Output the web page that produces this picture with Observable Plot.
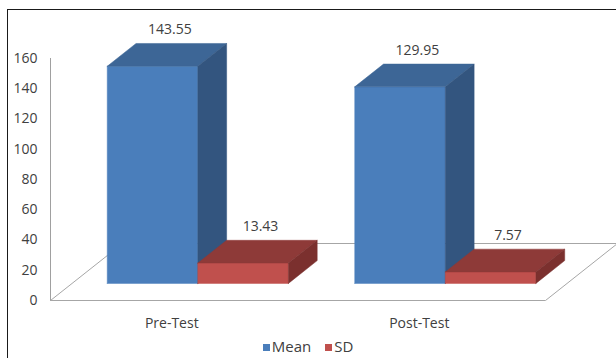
<!DOCTYPE html>
<html><head><meta charset="utf-8">
<script src="https://cdn.jsdelivr.net/npm/d3@7"></script>
<script src="https://cdn.jsdelivr.net/npm/@observablehq/plot@0.6"></script>
<style>
body{margin:0;background:#fff;font-family:"Open Sans",sans-serif;}
#wrap{position:relative;width:616px;height:358px;overflow:hidden;background:#fff;}
#frame{position:absolute;left:7px;top:9px;width:700px;height:400px;border-top:1px solid #1a1a1a;border-left:1px solid #1a1a1a;}
#chart{position:absolute;left:0;top:0;}
#legend{position:absolute;left:0;top:336px;width:616px;text-align:center;font-size:15px;color:#404040;line-height:20px;}
#legend .sw{display:inline-block;width:7px;height:7px;margin-right:2px;vertical-align:1px;}
#legend .item{margin:0 7px;}
</style></head><body>
<div id="wrap"><div id="frame"></div><div id="chart"></div><div id="legend"></div></div>
<script>
// ---- data ----
const categories = ["Pre-Test", "Post-Test"];
const series = ["Mean", "SD"];
const meanValues = [143.55, 129.95];
const sdValues = [13.43, 7.57];
const yTicks = [0, 20, 40, 60, 80, 100, 120, 140, 160];

// ---- styles / layout ----
const faceColors = {
  Mean: {front: "#4a7ebb", top: "#3d6696", side: "#33557f"},
  SD:   {front: "#c0504d", top: "#8e3a38", side: "#7b302e"}
};
const W = 616, H = 333, mL = 50, mR = 71, mT = 58, mB = 33;
const DXpx = 72, DYpx = 57;      // floor depth projection in px
const d0 = 0.3, d1 = 0.7;         // bar front/back depth
const barW = 0.366, center = 0.508;
const kx = (W - mL - mR) / categories.length;
const ky = (H - mT - mB) / (yTicks[yTicks.length - 1] - yTicks[0]);
const proj = (u, v, d) => ({x: u + d * DXpx / kx, y: v + d * DYpx / ky});

const valuesBySeries = {Mean: meanValues, SD: sdValues};
const marks = [];

// floor
const floorPts = [
  proj(0, 0, 0), proj(categories.length, 0, 0), proj(categories.length, 0, 1), proj(0, 0, 1), proj(0, 0, 0)
];
marks.push(Plot.line(floorPts, {x: "x", y: "y", stroke: "#a6a6a6", strokeWidth: 1, fill: "white"}));
// vertical axis line
marks.push(Plot.ruleX([0], {y1: yTicks[0], y2: yTicks[yTicks.length - 1], stroke: "#a0a0a0", strokeWidth: 1}));

const labels = [];
categories.forEach((cat, i) => {
  series.forEach((s, j) => {
    const v = valuesBySeries[s][i];
    const u0 = i + center - barW + j * barW, u1 = u0 + barW;
    const c = faceColors[s];
    const front = [proj(u0, 0, d0), proj(u1, 0, d0), proj(u1, v, d0), proj(u0, v, d0), proj(u0, 0, d0)];
    const top = [proj(u0, v, d0), proj(u1, v, d0), proj(u1, v, d1), proj(u0, v, d1), proj(u0, v, d0)];
    const side = [proj(u1, 0, d0), proj(u1, 0, d1), proj(u1, v, d1), proj(u1, v, d0), proj(u1, 0, d0)];
    marks.push(Plot.line(front, {x: "x", y: "y", fill: c.front, stroke: c.front, strokeWidth: 0.5}));
    marks.push(Plot.line(top, {x: "x", y: "y", fill: c.top, stroke: c.top, strokeWidth: 0.5}));
    marks.push(Plot.line(side, {x: "x", y: "y", fill: c.side, stroke: c.side, strokeWidth: 0.5}));
    const uc = (u0 + u1) / 2;
    labels.push({x: proj(uc, v, (d0 + d1) / 2).x, y: proj(uc, v, d1).y, text: d3.format(".2f")(v)});
  });
});

marks.push(Plot.text(labels, {x: "x", y: "y", text: "text", dy: -14, dx: 3, fill: "#404040", fontSize: 14}));
marks.push(Plot.axisY(yTicks, {tickSize: 0, tickPadding: 13, label: null, fontSize: 14}));
const catTicks = categories.map((c, i) => i + 0.49);
marks.push(Plot.axisX(catTicks, {tickSize: 0, tickPadding: 18, label: null, fontSize: 14,
  tickFormat: d => categories[Math.round(d - 0.49)]}));

const chart = Plot.plot({
  width: W, height: H,
  marginLeft: mL, marginRight: mR, marginTop: mT, marginBottom: mB,
  x: {domain: [0, categories.length], axis: null, label: null},
  y: {domain: [yTicks[0], yTicks[yTicks.length - 1]], axis: null, label: null},
  style: {fontFamily: "Open Sans", fontSize: "14px", color: "#404040", background: "transparent", overflow: "visible"},
  marks
});
document.getElementById("chart").appendChild(chart);

const legend = document.getElementById("legend");
series.forEach(s => {
  const item = document.createElement("span");
  item.className = "item";
  item.innerHTML = `<span class="sw" style="background:${faceColors[s].front}"></span>${s}`;
  legend.appendChild(item);
});
</script>
</body></html>
